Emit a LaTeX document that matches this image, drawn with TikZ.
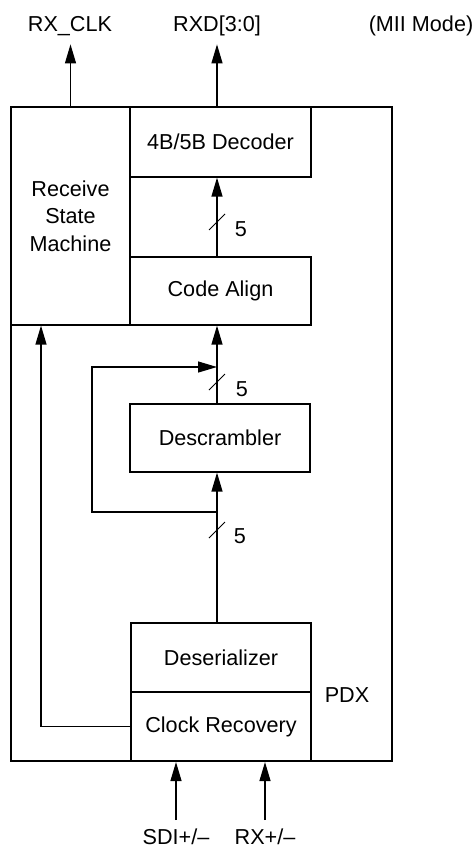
\documentclass[tikz,border=0pt]{standalone}
\usepackage{fontspec}
\setmainfont{Liberation Sans}
\usetikzlibrary{arrows.meta,positioning,calc}
\tikzset{
  blk/.style ={rectangle, draw=black, line width=0.7pt, minimum width=3.62cm,
               minimum height=1.38cm, align=center, inner sep=0pt,
               font=\fontsize{12.3}{15.6}\selectfont},
  thk/.style ={blk, minimum width=3.6cm, line width=1.2pt},
  lbl/.style ={inner sep=0pt, font=\fontsize{12.3}{15.6}\selectfont},
  ar/.style  ={-{Triangle[length=3.8mm,width=2.2mm]}, line width=0.7pt},
  slsh/.style={line width=0.5pt},
}
\begin{document}
\begin{tikzpicture}[x=0.02cm,y=-0.02cm]
\useasboundingbox (0,0) rectangle (474,848);
% blocks
\node[blk, minimum width=7.62cm, minimum height=13.08cm] (pdx) at (201.5,434) {};
\node[blk, minimum width=2.38cm, minimum height=4.36cm] (rsm) at (70.5,216) {Receive\\State\\Machine};
\node[blk, minimum height=1.4cm] (dec) at (220.5,142) {4B/5B Decoder};
\node[blk, minimum height=1.36cm] (align) at (220.5,291) {Code Align};
\node[blk, minimum width=3.6cm, minimum height=1.36cm] (descr) at (220,438) {Descrambler};
\node[thk] (deser) at (221,657.5) {Deserializer};
\node[thk] (clk) at (221,726.5) {Clock Recovery};

% labels
\node[lbl, anchor=base] (rxclk) at (70,32) {RX\_CLK};
\node[lbl, anchor=base] (rxd) at (217,32) {RXD[3:0]};
\node[lbl, anchor=base] (mii) at (421,32) {(MII Mode)};
\node[lbl, anchor=base] (pdxl) at (347,702) {PDX};
\node[lbl, anchor=base] (sdi) at (176,844) {SDI+/–};
\node[lbl, anchor=base] (rxin) at (265,844) {RX+/–};

\coordinate (bus) at (217,0);
\coordinate (tap) at (217,512);
\coordinate (join) at (217,367);

% data path
\draw[ar] (rsm.north) -- ++(0,-62);
\draw[ar] (dec.north -| bus) -- ++(0,-62);
\draw[ar] (align.north -| bus) -- (dec.south -| bus);
\draw[ar] (descr.north -| bus) -- (align.south -| bus);
\draw[ar] (deser.north -| bus) -- (descr.south -| bus);
\draw[ar] (tap) -- ++(-125,0) |- (join);
\draw[ar] (clk.west) -| ($(rsm.south)+(-29.5,0)$);
\draw[ar] ([yshift=0.16cm]sdi.north) -- (sdi |- clk.south);
\draw[ar] ([yshift=0.16cm]rxin.north) -- (rxin |- clk.south);

% bus width marks
\draw[slsh] ($(bus |- 0,222)+(-8,8)$) -- ++(16,-16);
\draw[slsh] ($(bus |- 0,382)+(-8,8)$) -- ++(16,-16);
\draw[slsh] ($(bus |- 0,530)+(-8,8)$) -- ++(16,-16);
\node[lbl] (w1) at (241,229) {5};
\node[lbl] (w2) at (242,389) {5};
\node[lbl] (w3) at (240,536) {5};
\end{tikzpicture}
\end{document}
